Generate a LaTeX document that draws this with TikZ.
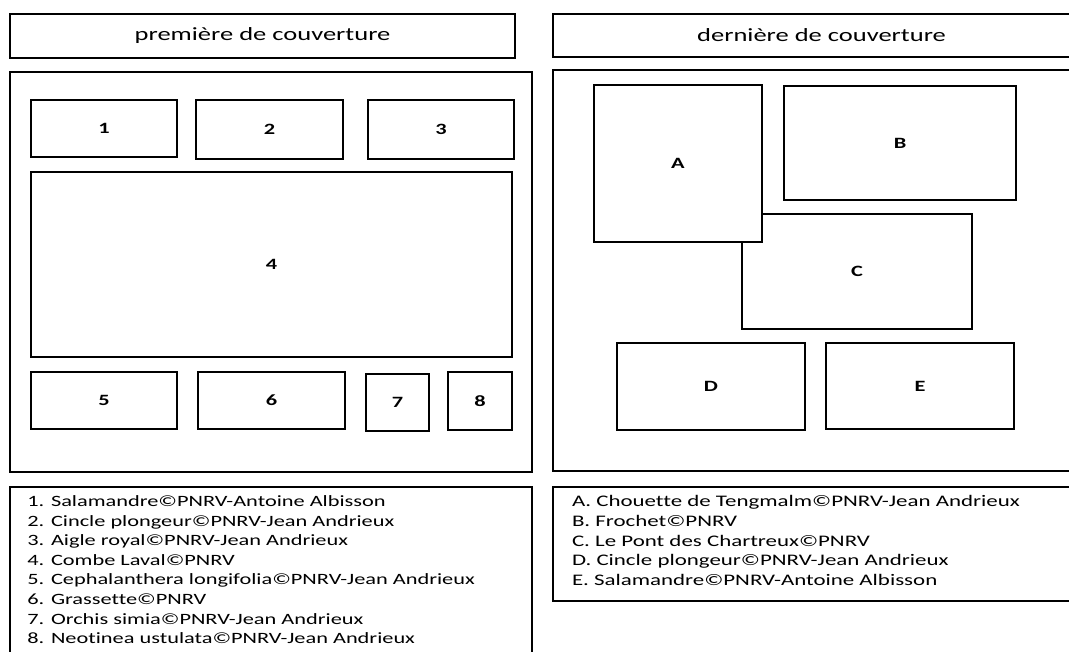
\documentclass[tikz,border=0pt]{standalone}
\usepackage{fontspec}
\setmainfont{Carlito}[FakeStretch=1.42,Ligatures={NoCommon}]
\newcommand\pbox[7]{\node[#7, minimum width={(#4-#2)*0.75pt}, minimum height={(#5-#3)*0.75pt}] (#1) at ({(#2+#4)/2},{(#3+#5)/2}) {#6};}
\tikzset{
  thinbox/.style={draw=black, line width=1.1pt, inner sep=0pt, outer sep=0pt, fill=white},
  thickbox/.style={draw=black, line width=2.2pt, inner sep=0pt, outer sep=0pt},
  cell/.style={thinbox, font=\fontsize{11.8}{13}\selectfont\bfseries},
  header/.style={thinbox, font=\fontsize{14}{16}\selectfont},
  legend/.style={inner sep=0pt, outer sep=0pt, anchor=north west, align=left, font=\fontsize{11.8}{14.7}\selectfont},
  legendR/.style={legend, font=\fontsize{12.1}{14.7}\selectfont}
}
\begin{document}
\begin{tikzpicture}[x=0.75pt,y=-0.75pt]
\useasboundingbox (0,0) rectangle (1069,652);
\clip (0,0) rectangle (1069,652);
% headers
\pbox{hdrL}{10}{14}{515}{58}{première de couverture}{header}
\pbox{hdrR}{553}{14}{1090}{57}{dernière de couverture}{header}
% panels
\pbox{panelL}{10}{72}{532}{472}{}{thickbox}
\pbox{panelR}{553}{70}{1090}{471}{}{thickbox}
% left cells
\pbox{c1}{31}{100}{177}{157}{1}{cell}
\pbox{c2}{196}{100}{343}{159}{2}{cell}
\pbox{c3}{368}{100}{514}{159}{3}{cell}
\pbox{c4}{31}{172}{512}{357}{4}{cell}
\pbox{c5}{31}{372}{177}{429}{5}{cell}
\pbox{c6}{198}{372}{345}{429}{6}{cell}
\pbox{c7}{366}{374}{429}{431}{7}{cell}
\pbox{c8}{448}{372}{512}{430}{8}{cell}
% right cells
\pbox{cB}{784}{86}{1016}{200}{B}{cell}
\pbox{cC}{742}{214}{972}{329}{C}{cell}
\pbox{cA}{594}{85}{762}{242}{A}{cell}
\pbox{cD}{617}{343}{805}{430}{D}{cell}
\pbox{cE}{826}{343}{1014}{429}{E}{cell}
% legends
\pbox{legL}{10}{487}{532}{680}{}{thinbox}
\pbox{legR}{553}{487}{1090}{601}{}{thinbox}
\node[legend] (txtL) at ([xshift=13pt,yshift=-6.5pt]legL.north west) {1. Salamandre©PNRV-Antoine Albisson\\
2. Cincle plongeur©PNRV-Jean Andrieux\\
3. Aigle royal©PNRV-Jean Andrieux\\
4. Combe Laval©PNRV\\
5. Cephalanthera longifolia©PNRV-Jean Andrieux\\
6. Grassette©PNRV\\
7. Orchis simia©PNRV-Jean Andrieux\\
8. Neotinea ustulata©PNRV-Jean Andrieux};
\node[legendR] (txtR) at ([xshift=14.25pt,yshift=-6.5pt]legR.north west) {A. Chouette de Tengmalm©PNRV-Jean Andrieux\\
B. Frochet©PNRV\\
C. Le Pont des Chartreux©PNRV\\
D. Cincle plongeur©PNRV-Jean Andrieux\\
E. Salamandre©PNRV-Antoine Albisson};
\end{tikzpicture}
\end{document}
